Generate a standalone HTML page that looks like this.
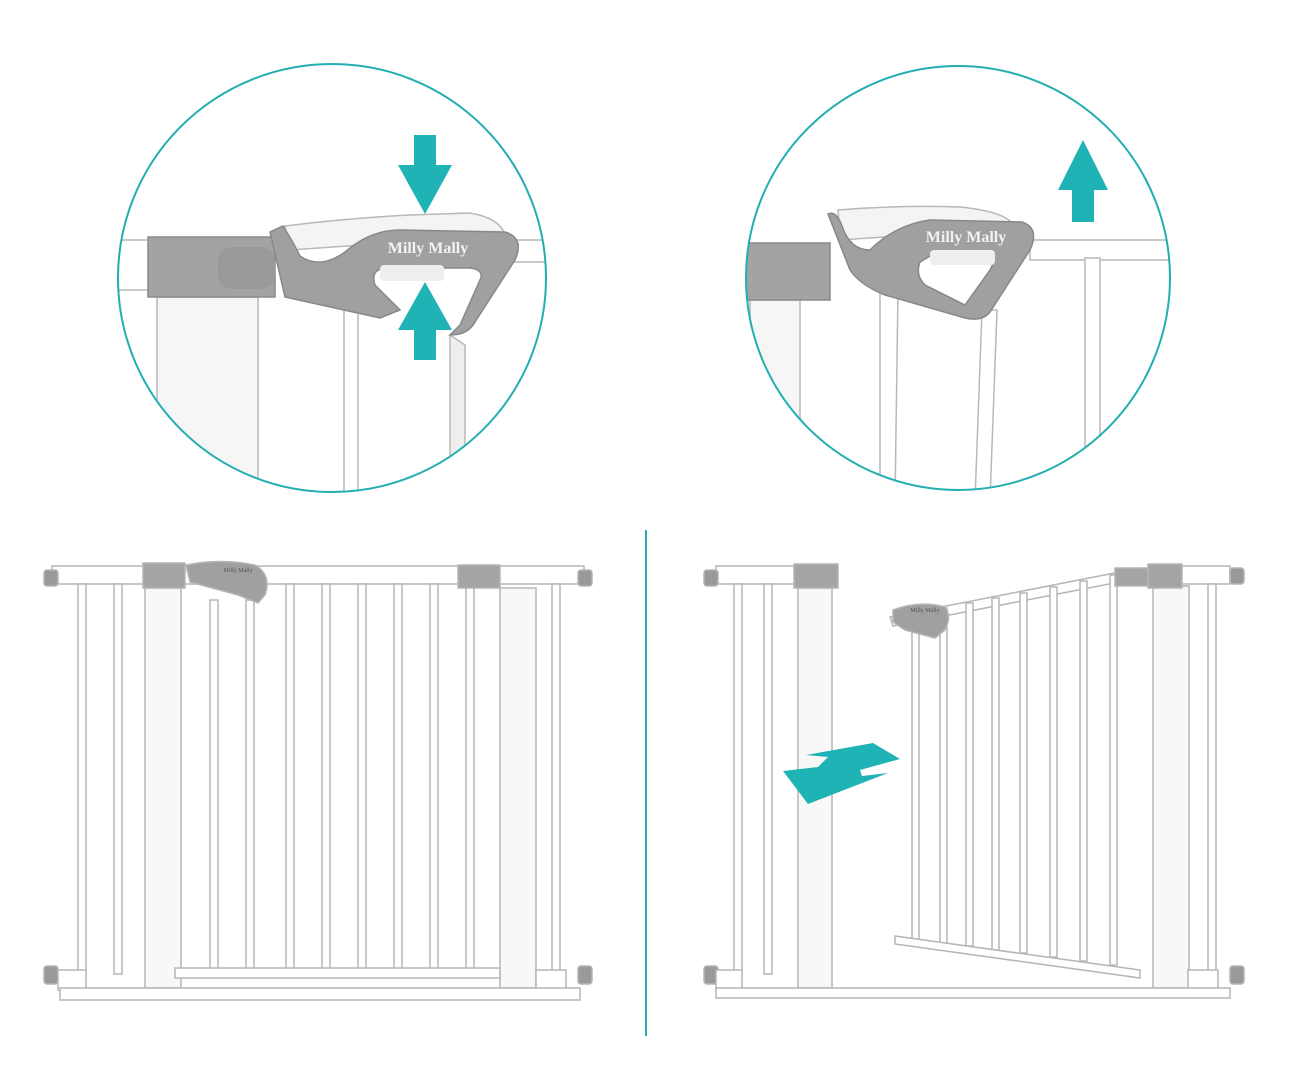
<!DOCTYPE html>
<html><head><style>html,body{margin:0;padding:0;background:#fff}svg{display:block}</style></head><body>
<svg width="1296" height="1080" viewBox="0 0 1296 1080" xmlns="http://www.w3.org/2000/svg" font-family="Liberation Serif, serif">
<defs>
<clipPath id="c1"><circle cx="332" cy="278" r="214"/></clipPath>
<clipPath id="c2"><circle cx="958" cy="278" r="212"/></clipPath>
</defs>
<g fill="#fff" stroke="#b8b8b8" stroke-width="1.5">
<g clip-path="url(#c1)">
<rect x="100" y="240" width="60" height="50"/>
<rect x="440" y="240" width="120" height="22"/>
<rect x="157" y="297" width="101" height="220" fill="#f6f6f6"/>
<rect x="344" y="295" width="14" height="220"/>
<path d="M450 335 L450 520 L465 520 L465 345 Z" fill="#eee"/>
<rect x="148" y="237" width="127" height="60" fill="#a3a3a3" stroke="#8a8a8a"/>
<rect x="218" y="247" width="57" height="42" rx="14" fill="#999" stroke="none"/>
<path d="M285 226 Q350 218 410 215 L470 213 Q500 218 505 235 L290 250 Z" fill="#f4f4f4"/>
<path d="M270 232 L283 226 Q292 240 300 256 Q320 270 345 252 Q370 230 400 230 L505 232 Q525 238 515 260 L475 322 Q468 335 450 335 L460 325 L480 280 Q485 270 470 268 L385 268 Q370 270 375 285 L400 310 L380 318 L285 297 Z" fill="#a0a0a0" stroke="#888"/>
<rect x="380" y="265" width="64" height="16" rx="4" fill="#eee" stroke="none"/>
<text x="428" y="253" font-size="16" font-weight="bold" fill="#f2f2f2" stroke="none" text-anchor="middle">Milly Mally</text>
</g>
<g clip-path="url(#c2)">
<rect x="730" y="245" width="70" height="55"/>
<rect x="750" y="300" width="50" height="200" fill="#f6f6f6"/>
<rect x="1030" y="240" width="150" height="20"/>
<rect x="745" y="243" width="85" height="57" fill="#a3a3a3" stroke="#8a8a8a"/>
<path d="M880 285 L880 500 L895 500 L898 290 Z"/>
<path d="M982 310 L975 500 L990 500 L997 310 Z"/>
<rect x="1085" y="258" width="15" height="250"/>
<path d="M838 210 Q900 205 960 207 Q1010 212 1015 228 L840 240 Z" fill="#f4f4f4"/>
<path d="M828 214 Q836 210 842 226 Q850 250 870 250 Q895 225 930 220 L1022 222 Q1040 228 1030 250 L990 312 Q982 322 965 318 L885 295 Q860 285 850 270 Z" fill="#a0a0a0" stroke="#888"/>
<path d="M932 255 L985 255 Q998 256 990 270 L965 305 L925 285 Q915 275 920 262 Z" fill="#fff" stroke="#888"/>
<rect x="930" y="250" width="65" height="15" rx="4" fill="#eee" stroke="none"/>
<text x="966" y="242" font-size="16" font-weight="bold" fill="#f2f2f2" stroke="none" text-anchor="middle">Milly Mally</text>
</g>
</g>
<circle cx="332" cy="278" r="214" fill="none" stroke="#23aeb1" stroke-width="2"/>
<circle cx="958" cy="278" r="212" fill="none" stroke="#23aeb1" stroke-width="2"/>
<g fill="#1fb3b6">
<path d="M414 135 L436 135 L436 165 L452 165 L425 214 L398 165 L414 165 Z"/>
<path d="M425 282 L452 330 L436 330 L436 360 L414 360 L414 330 L398 330 Z"/>
<path d="M1083 140 L1108 190 L1094 190 L1094 222 L1072 222 L1072 190 L1058 190 Z"/>
</g>
<line x1="646" y1="530" x2="646" y2="1036" stroke="#23aeb1" stroke-width="2"/>
<g fill="#fff" stroke="#b5b5b5" stroke-width="1.5">
<rect x="52" y="566" width="532" height="18"/>
<rect x="44" y="570" width="14" height="16" rx="3" fill="#999"/>
<rect x="578" y="570" width="14" height="16" rx="3" fill="#999"/>
<rect x="44" y="966" width="14" height="18" rx="3" fill="#999"/>
<rect x="578" y="966" width="14" height="18" rx="3" fill="#999"/>
<g>
<rect x="78" y="584" width="8" height="390"/><rect x="114" y="584" width="8" height="390"/>
<rect x="210" y="600" width="8" height="375"/><rect x="246" y="600" width="8" height="375"/>
<rect x="286" y="584" width="8" height="390"/><rect x="322" y="584" width="8" height="390"/>
<rect x="358" y="584" width="8" height="390"/><rect x="394" y="584" width="8" height="390"/>
<rect x="430" y="584" width="8" height="390"/><rect x="466" y="584" width="8" height="390"/>
<rect x="552" y="584" width="8" height="390"/>
</g>
<rect x="145" y="588" width="36" height="400" fill="#f8f8f8"/>
<rect x="500" y="588" width="36" height="400" fill="#f8f8f8"/>
<rect x="58" y="970" width="28" height="20"/><rect x="536" y="970" width="30" height="20"/>
<rect x="175" y="968" width="325" height="10"/>
<rect x="60" y="988" width="520" height="12"/>
<rect x="143" y="563" width="42" height="25" fill="#a5a5a5"/>
<rect x="458" y="565" width="42" height="23" fill="#a5a5a5"/>
<path d="M186 565 Q220 558 255 565 Q272 575 265 595 L258 603 L238 595 L190 582 Z" fill="#a0a0a0"/>
<text x="238" y="572" font-size="6" fill="#555" stroke="none" text-anchor="middle">Milly Mally</text>
</g>
<g fill="#fff" stroke="#b5b5b5" stroke-width="1.5">
<rect x="716" y="566" width="110" height="18"/>
<rect x="1150" y="566" width="80" height="18"/>
<rect x="704" y="570" width="14" height="16" rx="3" fill="#999"/>
<rect x="1230" y="568" width="14" height="16" rx="3" fill="#999"/>
<rect x="704" y="966" width="14" height="18" rx="3" fill="#999"/>
<rect x="1230" y="966" width="14" height="18" rx="3" fill="#999"/>
<rect x="734" y="584" width="8" height="390"/><rect x="764" y="584" width="8" height="390"/>
<rect x="1208" y="584" width="8" height="390"/>
<path d="M890 617 L1140 568 L1140 578 L893 626 Z"/>
<g>
<rect x="912" y="615" width="7" height="325"/><rect x="940" y="608" width="7" height="335"/>
<rect x="966" y="603" width="7" height="343"/><rect x="992" y="598" width="7" height="352"/>
<rect x="1020" y="593" width="7" height="360"/><rect x="1050" y="587" width="7" height="370"/>
<rect x="1080" y="581" width="7" height="380"/><rect x="1110" y="575" width="7" height="390"/>
</g>
<path d="M895 936 L1140 970 L1140 978 L895 944 Z"/>
<rect x="798" y="588" width="34" height="400" fill="#f8f8f8"/>
<rect x="1153" y="586" width="36" height="402" fill="#f8f8f8"/>
<rect x="794" y="564" width="44" height="24" fill="#a5a5a5"/>
<rect x="1148" y="564" width="34" height="24" fill="#a5a5a5"/>
<rect x="1115" y="568" width="33" height="18" fill="#a5a5a5"/>
<rect x="716" y="970" width="26" height="20"/><rect x="1188" y="970" width="30" height="20"/>
<rect x="716" y="988" width="514" height="10"/>
<path d="M893 610 Q920 600 945 607 Q952 615 945 630 L935 638 L905 630 L893 622 Z" fill="#a0a0a0"/>
<text x="925" y="612" font-size="6" fill="#555" stroke="none" text-anchor="middle">Milly Mally</text>
</g>
<path d="M806 755 L873 743 L900 759 L860 770 L862 776 L888 773 L808 804 L783 771 L818 767 L828 757 Z" fill="#1fb3b6"/>
</svg>
</body></html>
